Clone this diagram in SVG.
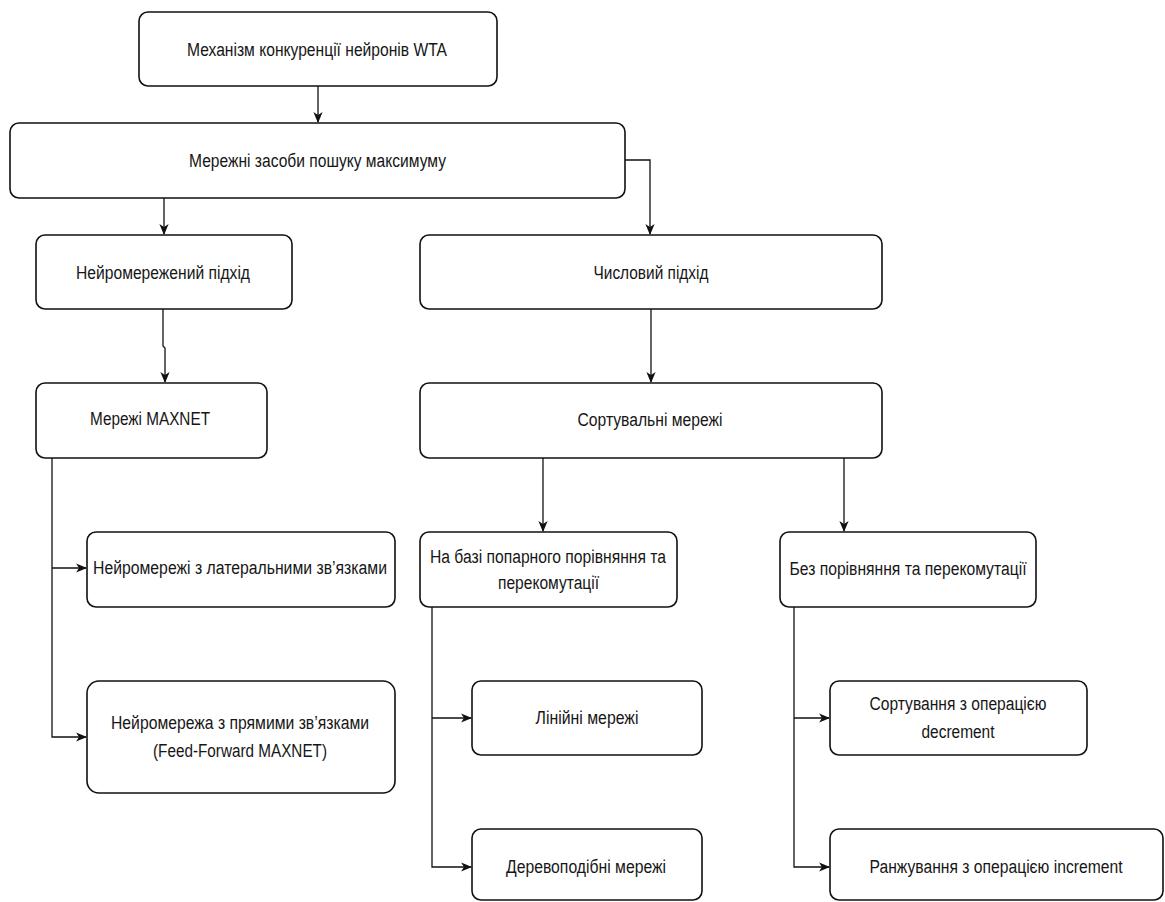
<svg xmlns="http://www.w3.org/2000/svg" width="1165" height="902" viewBox="0 0 1165 902">
<style>
.box{fill:#fff;stroke:#111;stroke-width:1.6}
.t{font-family:"Liberation Sans",Arial,sans-serif;font-size:18px;fill:#161616;text-anchor:middle;dominant-baseline:central}
.c{fill:none;stroke:#111;stroke-width:1.3}
</style>
<defs>
<marker id="arr" viewBox="0 0 10 10" refX="9" refY="5" markerWidth="11" markerHeight="11" markerUnits="userSpaceOnUse" orient="auto">
<path d="M0,0.8 L10,5 L0,9.2 L2.6,5 Z" fill="#111"/>
</marker>
</defs>
<rect width="1165" height="902" fill="#fff"/>
<g id="connectors">
<path class="c" d="M318,86 V122" marker-end="url(#arr)"/>
<path class="c" d="M625,160 H650 V234" marker-end="url(#arr)"/>
<path class="c" d="M164,198 V234" marker-end="url(#arr)"/>
<path class="c" d="M163,309 V346 L165,348 V382" marker-end="url(#arr)"/>
<path class="c" d="M651,309 V382" marker-end="url(#arr)"/>
<path class="c" d="M543,458 V531" marker-end="url(#arr)"/>
<path class="c" d="M844,458 V531" marker-end="url(#arr)"/>
<path class="c" d="M52,458 V737 H86" marker-end="url(#arr)"/>
<path class="c" d="M52,568 H86" marker-end="url(#arr)"/>
<path class="c" d="M432,607 V867 H471" marker-end="url(#arr)"/>
<path class="c" d="M432,718 H471" marker-end="url(#arr)"/>
<path class="c" d="M794,607 V867 H829" marker-end="url(#arr)"/>
<path class="c" d="M794,718 H829" marker-end="url(#arr)"/>
</g>
<g id="n1"><rect class="box" x="139" y="12" width="358" height="74" rx="9"/><text class="t" x="317" y="50" textLength="260" lengthAdjust="spacingAndGlyphs">Механізм конкуренції нейронів WTA</text></g>
<g id="n2"><rect class="box" x="10" y="123" width="615" height="75" rx="9"/><text class="t" x="317.5" y="161" textLength="257" lengthAdjust="spacingAndGlyphs">Мережні засоби пошуку максимуму</text></g>
<g id="n3"><rect class="box" x="36" y="235" width="256" height="74" rx="9"/><text class="t" x="163" y="273" textLength="174" lengthAdjust="spacingAndGlyphs">Нейромережений підхід</text></g>
<g id="n4"><rect class="box" x="420" y="235" width="462" height="74" rx="9"/><text class="t" x="651" y="273" textLength="115" lengthAdjust="spacingAndGlyphs">Числовий підхід</text></g>
<g id="n5"><rect class="box" x="36" y="383" width="231" height="75" rx="9"/><text class="t" x="150" y="419" textLength="120" lengthAdjust="spacingAndGlyphs">Мережі MAXNET</text></g>
<g id="n6"><rect class="box" x="420" y="383" width="462" height="75" rx="9"/><text class="t" x="650" y="420" textLength="145" lengthAdjust="spacingAndGlyphs">Сортувальні мережі</text></g>
<g id="n7"><rect class="box" x="87" y="532" width="308" height="75" rx="9"/><text class="t" x="240" y="568" textLength="294" lengthAdjust="spacingAndGlyphs">Нейромережі з латеральними зв’язками</text></g>
<g id="n8"><rect class="box" x="420" y="532" width="257" height="75" rx="9"/><text class="t" x="548" y="557" textLength="236" lengthAdjust="spacingAndGlyphs">На базі попарного порівняння та</text><text class="t" x="548.5" y="583" textLength="101" lengthAdjust="spacingAndGlyphs">перекомутації</text></g>
<g id="n9"><rect class="box" x="780" y="532" width="256" height="75" rx="9"/><text class="t" x="908" y="569" textLength="237" lengthAdjust="spacingAndGlyphs">Без порівняння та перекомутації</text></g>
<g id="n10"><rect class="box" x="87" y="681" width="308" height="112" rx="12"/><text class="t" x="240" y="723" textLength="258" lengthAdjust="spacingAndGlyphs">Нейромережа з прямими зв’язками</text><text class="t" x="240" y="751" textLength="174" lengthAdjust="spacingAndGlyphs">(Feed-Forward MAXNET)</text></g>
<g id="n11"><rect class="box" x="472" y="681" width="230" height="74" rx="9"/><text class="t" x="587" y="718" textLength="103" lengthAdjust="spacingAndGlyphs">Лінійні мережі</text></g>
<g id="n12"><rect class="box" x="830" y="681" width="257" height="74" rx="9"/><text class="t" x="958" y="704" textLength="177" lengthAdjust="spacingAndGlyphs">Сортування з операцією</text><text class="t" x="958" y="732" textLength="73" lengthAdjust="spacingAndGlyphs">decrement</text></g>
<g id="n13"><rect class="box" x="472" y="829" width="230" height="71" rx="9"/><text class="t" x="586" y="867" textLength="160" lengthAdjust="spacingAndGlyphs">Деревоподібні мережі</text></g>
<g id="n14"><rect class="box" x="830" y="829" width="333" height="71" rx="9"/><text class="t" x="996" y="867" textLength="253" lengthAdjust="spacingAndGlyphs">Ранжування з операцією increment</text></g>
</svg>
